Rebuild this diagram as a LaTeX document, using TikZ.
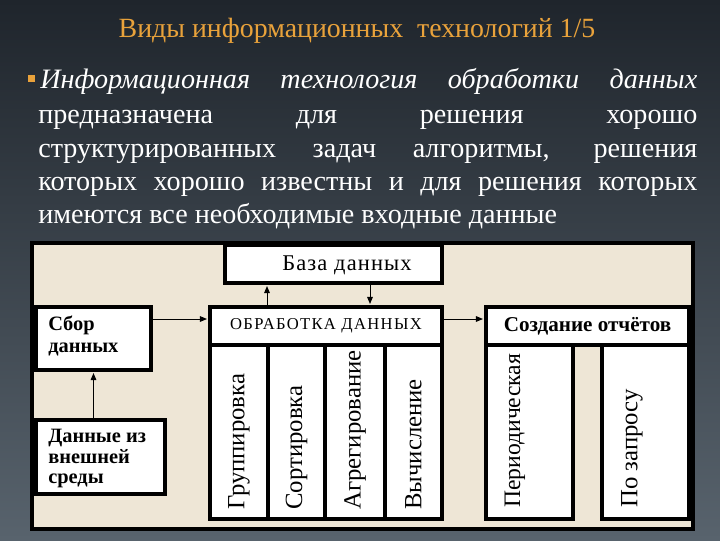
\documentclass[tikz,border=0pt]{standalone}
\usepackage{fontspec}
\setmainfont{Liberation Serif}
\usetikzlibrary{arrows.meta,positioning,fit}
\definecolor{slatetop}{HTML}{1F252C}
\definecolor{slatebot}{HTML}{58636D}
\definecolor{amberx}{HTML}{E9A23B}
\definecolor{paper}{HTML}{EEE6D6}
\newlength{\pix}\setlength{\pix}{0.025cm}

\begin{document}
\begin{tikzpicture}[x=.025cm,y=-.025cm,
  box/.style={draw,line width=2.3pt,fill=white,inner sep=0pt},
  arr/.style={-{Triangle[length=5pt,width=4pt]},line width=.7pt,shorten >=1pt},
  body/.style={text=white,inner sep=0pt,font=\fontsize{20}{23.9}\selectfont},
  col/.style={rotate=90,anchor=west,inner sep=0pt,font=\fontsize{17.6}{20}\selectfont}]
\useasboundingbox (0,0) rectangle (720,540);
\shade[top color=slatetop,bottom color=slatebot] (0,0) rectangle (720,540);
\node[anchor=base,inner sep=0pt,text=amberx,font=\fontsize{19.8}{22}\selectfont] (title) at (357,37) {Виды информационных\ \ технологий 1/5};
\fill[amberx] (28,75) rectangle (35,82);
\node[body,anchor=base west] (l1) at (40,88) {\makebox[657\pix][s]{\itshape Информационная технология обработки данных}};
\foreach \y/\txt [count=\i from 2] in {123/предназначена для решения хорошо,157/{структурированных задач алгоритмы, решения},190/которых хорошо известны и для решения которых}
  {\node[body,anchor=base west] (l\i) at (38,\y) {\makebox[659\pix][s]{\txt}};}
\node[body,anchor=base west] (l5) at (38,223) {имеются все необходимые входные данные};
\draw[line width=2.3pt,fill=paper] (32,243) rectangle (693,529);
\node[box,fit={(225,245) (442,283)}] (baza) {};
\node[anchor=base,inner sep=0pt,font=\fontsize{16}{18}\selectfont\addfontfeatures{LetterSpace=5}] (bazalab) at (347,270) {База данных};
\node[box,fit={(36,307) (151,370)}] (sbor) {};
\node[anchor=north west,align=left,inner sep=0pt,font=\fontsize{14.5}{15.6}\selectfont\bfseries] (sborlab) at (48,316) {Сбор\\данных};
\node[box,fit={(36,420) (165,494)}] (dan) {};
\node[anchor=north west,align=left,inner sep=0pt,font=\fontsize{14.5}{14.5}\selectfont\bfseries] (danlab) at (48,429) {Данные из\\внешней\\среды};
\node[box,fit={(210,307) (442,345)}] (obrh) {};
\node[inner sep=0pt,font=\fontsize{11.8}{13}\selectfont\addfontfeatures{LetterSpace=8}] (obrlab) at (obrh.center) {ОБРАБОТКА ДАННЫХ};
\foreach \xl/\xr/\lab [count=\i] in {210/268/Группировка,268/325/Сортировка,325/385/Агрегирование,385/442/Вычисление}
  {\node[box,fit={(\xl,345) (\xr,519)}] (op\i) {};
   \node[col] (oplab\i) at ({(\xl+\xr)/2},510) {\lab};}
\node[box,fit={(486,307) (689,345)}] (reph) {};
\node[inner sep=0pt,font=\fontsize{15}{18}\selectfont\bfseries] (replab) at (reph.center) {Создание отчётов};
\node[box,fit={(486,345) (573,519)}] (rp1) {};
\node[box,fit={(602,345) (689,519)}] (rp2) {};
\node[col,font=\fontsize{16.8}{20}\selectfont] (rplab1) at (515,508) {Периодическая};
\node[col] (rplab2) at (632,508) {По запросу};
\coordinate (flow) at (0,319);
\coordinate (upx) at (267,0);
\coordinate (dnx) at (370,0);
\draw[arr] (dan.north -| sbor.south) -- (sbor.south);
\draw[arr] (sbor.east |- flow) -- (obrh.west |- flow);
\draw[arr] (obrh.east |- flow) -- (reph.west |- flow);
\draw[arr] (obrh.north -| upx) -- (baza.south -| upx);
\draw[arr] (baza.south -| dnx) -- (obrh.north -| dnx);
\end{tikzpicture}
\end{document}
